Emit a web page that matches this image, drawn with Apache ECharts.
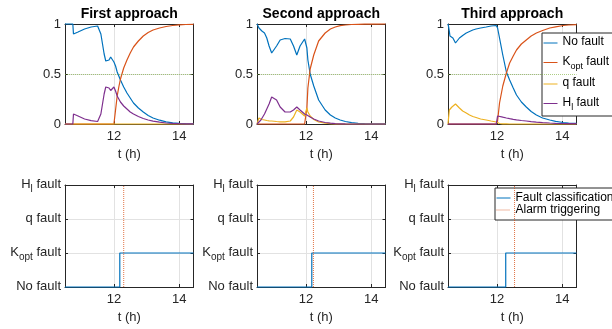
<!DOCTYPE html>
<html><head><meta charset="utf-8">
<script src="https://cdn.jsdelivr.net/npm/echarts@6/dist/echarts.min.js"></script>
<style>html,body{margin:0;padding:0;background:#fff}#c{width:612px;height:329px}</style>
</head><body><div id="c"></div>
<script>
// ---------- data ----------
const titles = ['First approach', 'Second approach', 'Third approach'];
const faultNames = ['No fault', 'Kopt fault', 'q fault', 'Hl fault'];
const classLabels = ['No fault', 'Kopt fault', 'q fault', 'Hl fault'];
const xTicks = [12, 14];
const tStart = 10.5, tEnd = 14.44;
const threshold = 0.5;

const tFirst = [10.5,10.74,10.76,10.9,11.1,11.3,11.5,11.55,11.6,11.65,11.7,11.75,11.79,11.85,11.9,11.95,12.0,12.05,12.1,12.15,12.2,12.3,12.4,12.5,12.6,12.75,12.9,13.05,13.2,13.4,13.6,13.8,14.0,14.2,14.44];
const noFaultFirst = [1,1,0.9,0.92,0.95,0.97,0.98,0.985,0.9,0.8,0.7,0.63,0.61,0.64,0.67,0.65,0.62,0.58,0.52,0.48,0.44,0.37,0.31,0.26,0.21,0.16,0.12,0.085,0.06,0.038,0.022,0.012,0.006,0.003,0.002];
const koptFirst = [0,0,0,0,0,0,0,0,0,0,0,0,0,0,0,0,0,0.14,0.28,0.37,0.45,0.56,0.64,0.71,0.77,0.83,0.88,0.915,0.94,0.96,0.975,0.985,0.992,0.995,0.997];
const qFirst = [0,0,0,0,0,0,0,0,0,0,0,0,0,0,0,0,0,0,0,0,0,0,0,0,0,0,0,0,0,0,0,0,0,0,0];
const hlFirst = [0,0,0.1,0.08,0.05,0.033,0.025,0.025,0.1,0.2,0.3,0.37,0.39,0.36,0.335,0.35,0.37,0.33,0.28,0.25,0.22,0.18,0.15,0.12,0.1,0.075,0.055,0.04,0.028,0.018,0.01,0.006,0.003,0.002,0.001];

const tSecond = [10.5,10.56,10.62,10.65,10.73,10.8,10.87,10.95,11.0,11.1,11.21,11.36,11.52,11.62,11.72,11.82,11.96,12.0,12.03,12.06,12.13,12.24,12.39,12.59,12.75,12.9,13.05,13.21,13.4,13.6,13.8,14.0,14.2,14.44];
const noFaultSecond = [1,0.96,0.94,0.93,0.91,0.86,0.78,0.71,0.70,0.78,0.84,0.855,0.85,0.78,0.69,0.78,0.85,0.84,0.76,0.64,0.5,0.38,0.24,0.14,0.09,0.06,0.04,0.025,0.013,0.007,0.004,0.002,0.001,0.001];
const koptSecond = [0,0,0,0,0,0,0,0,0,0,0,0,0,0,0,0,0,0,0.16,0.36,0.55,0.69,0.83,0.91,0.95,0.97,0.983,0.99,0.995,0.997,0.998,0.999,0.999,1];
const qSecond = [0,0.06,0.05,0.045,0.04,0.035,0.032,0.03,0.028,0.025,0.022,0.022,0.03,0.07,0.14,0.12,0.08,0.08,0.16,0.12,0.08,0.045,0.02,0.008,0.004,0.002,0.001,0,0,0,0,0,0,0];
const hlSecond = [0,0.02,0.04,0.05,0.1,0.15,0.2,0.27,0.29,0.24,0.17,0.12,0.12,0.14,0.17,0.14,0.1,0.095,0.09,0.085,0.07,0.05,0.03,0.015,0.008,0.004,0.002,0.001,0,0,0,0,0,0];

const tThird = [10.5,10.52,10.54,10.56,10.59,10.62,10.65,10.68,10.73,10.77,10.85,10.95,11.06,11.16,11.26,11.36,11.5,11.67,11.82,11.98,12.0,12.02,12.08,12.18,12.29,12.39,12.5,12.6,12.75,12.9,13.05,13.21,13.4,13.62,13.8,14.03,14.2,14.44];
const noFaultThird = [1,0.97,0.93,0.88,0.87,0.865,0.86,0.85,0.81,0.82,0.86,0.885,0.91,0.925,0.94,0.95,0.96,0.97,0.98,0.985,0.985,0.96,0.86,0.69,0.52,0.44,0.36,0.29,0.22,0.17,0.125,0.09,0.06,0.04,0.027,0.015,0.01,0.006];
const koptThird = [0,0,0,0,0,0,0,0,0,0,0,0,0,0,0,0,0,0,0,0,0,0.03,0.21,0.38,0.51,0.61,0.68,0.74,0.8,0.84,0.88,0.91,0.935,0.96,0.972,0.985,0.99,0.993];
const qThird = [0,0.07,0.14,0.16,0.16,0.17,0.16,0.17,0.2,0.19,0.16,0.13,0.11,0.09,0.075,0.065,0.05,0.04,0.03,0.02,0.015,0.01,0.005,0.002,0.001,0,0,0,0,0,0,0,0,0,0,0,0,0];
const hlThird = [0,0,0,0,0,0,0,0,0,0,0,0,0,0,0,0,0,0,0,0,0,0.08,0.075,0.068,0.06,0.053,0.047,0.042,0.035,0.03,0.024,0.019,0.014,0.01,0.007,0.005,0.004,0.003];

const classSwitchTimes = [12.18, 12.18, 12.27];
const alarmTimes = [12.30, 12.23, 12.54];
const classBefore = 0, classAfter = 1;

// ---------- style / layout ----------
const FF = "'Liberation Sans', Arial, Helvetica, sans-serif";
const colors = ['#0072BD', '#D95319', '#EDB120', '#7E2F8E'];
const green = '#77AC30';
const axisColor = '#262626';
const gridColor = '#e2e2e2';
const lefts = [65, 257, 448];
const W = 128.5;
const topRow = {top: 24, height: 100};
const botRow = {top: 185, height: 102};

const approaches = [
  {t: tFirst, vals: [noFaultFirst, koptFirst, qFirst, hlFirst]},
  {t: tSecond, vals: [noFaultSecond, koptSecond, qSecond, hlSecond]},
  {t: tThird, vals: [noFaultThird, koptThird, qThird, hlThird]}
];

function richName(name) {
  if (name === 'Kopt fault') return '{m|K}{s|opt}{m| fault}';
  if (name === 'Hl fault') return '{m|H}{s|l}{m| fault}';
  return '{m|' + name + '}';
}
const axisRich = {
  m: {fontSize: 13, fontFamily: FF, color: axisColor, lineHeight: 15, verticalAlign: 'top'},
  s: {fontSize: 10, fontFamily: FF, color: axisColor, lineHeight: 11, padding: [9, 0, 0, 0]}
};
const legendRich = {
  m: {fontSize: 12, fontFamily: FF, color: '#000', lineHeight: 14, verticalAlign: 'top'},
  s: {fontSize: 9, fontFamily: FF, color: '#000', lineHeight: 10, padding: [8, 0, 0, 0]}
};

const grid = [], xAxis = [], yAxis = [], series = [], title = [];
const zip = (t, v) => t.map((x, i) => [x, v[i]]);

function addAxes(gi, isTop) {
  const line = {show: true, onZero: false, lineStyle: {color: axisColor, width: 1}};
  const tick = {show: true, inside: true, length: 3, customValues: xTicks, lineStyle: {color: axisColor}};
  xAxis.push({
    type: 'value', gridIndex: gi, min: tStart, max: tEnd, position: 'bottom',
    axisLine: line, axisTick: tick,
    axisLabel: {customValues: xTicks, color: axisColor, fontSize: 13, fontFamily: FF, margin: 6},
    splitLine: {show: true, lineStyle: {color: gridColor, width: 1}},
    name: 't (h)', nameLocation: 'middle', nameGap: 24,
    nameTextStyle: {fontSize: 13, fontFamily: FF, color: axisColor}
  });
  xAxis.push({
    type: 'value', gridIndex: gi, min: tStart, max: tEnd, position: 'top',
    axisLine: line, axisTick: tick, axisLabel: {show: false}, splitLine: {show: false}
  });
  const yBase = isTop
    ? {min: 0, max: 1, interval: 0.5}
    : {min: 0, max: 3, interval: 1};
  yAxis.push(Object.assign({
    type: 'value', gridIndex: gi, position: 'left',
    axisLine: line,
    axisTick: {show: true, inside: true, length: 3, lineStyle: {color: axisColor}},
    axisLabel: isTop
      ? {color: axisColor, fontSize: 13, fontFamily: FF, margin: 4}
      : {margin: 4, formatter: v => richName(classLabels[v]), rich: axisRich},
    splitLine: {show: true, lineStyle: {color: gridColor, width: 1}}
  }, yBase));
  yAxis.push(Object.assign({
    type: 'value', gridIndex: gi, position: 'right',
    axisLine: line,
    axisTick: {show: true, inside: true, length: 3, lineStyle: {color: axisColor}},
    axisLabel: {show: false}, splitLine: {show: false}
  }, yBase));
}

for (let i = 0; i < 3; i++) {
  const gi = i;
  grid.push({left: lefts[i], width: W, top: topRow.top, height: topRow.height});
  addAxes(gi, true);
  title.push({
    text: titles[i], left: lefts[i] + W / 2, top: 7, textAlign: 'center', padding: 0,
    textStyle: {fontSize: 14, fontWeight: 'bold', color: '#000', fontFamily: FF}
  });
  const ap = approaches[i];
  faultNames.forEach((name, k) => {
    const s = {
      type: 'line', name: name, xAxisIndex: 2 * gi, yAxisIndex: 2 * gi,
      data: zip(ap.t, ap.vals[k]), symbol: 'none', clip: false,
      lineStyle: {color: colors[k], width: 1.2}, itemStyle: {color: colors[k]},
      z: 2 + k
    };
    if (k === 0) {
      s.markLine = {
        silent: true, symbol: ['none', 'none'], label: {show: false},
        lineStyle: {color: green, type: 'dotted', width: 1, opacity: 0.6},
        data: [{yAxis: threshold}]
      };
    }
    series.push(s);
  });
}
for (let i = 0; i < 3; i++) {
  const gi = 3 + i;
  grid.push({left: lefts[i], width: W, top: botRow.top, height: botRow.height});
  addAxes(gi, false);
  series.push({
    type: 'line', name: 'Fault classification', xAxisIndex: 2 * gi, yAxisIndex: 2 * gi,
    step: 'end', symbol: 'none', clip: false,
    data: [[tStart, classBefore], [classSwitchTimes[i], classAfter], [tEnd, classAfter]],
    lineStyle: {color: colors[0], width: 1.2}, itemStyle: {color: colors[0]}, z: 3
  });
  series.push({
    type: 'line', name: 'Alarm triggering', xAxisIndex: 2 * gi, yAxisIndex: 2 * gi,
    symbol: 'none', clip: false,
    data: [[alarmTimes[i], 0], [alarmTimes[i], classLabels.length - 1]],
    lineStyle: {color: colors[1], width: 1, type: 'dotted', opacity: 0.8}, itemStyle: {color: colors[1]}, z: 4
  });
}

const option = {
  animation: false,
  backgroundColor: '#fff',
  title, grid, xAxis, yAxis, series,
  legend: [
    {
      data: faultNames, orient: 'vertical', left: 542, top: 33,
      backgroundColor: '#fff', borderColor: axisColor, borderWidth: 1, borderRadius: 0,
      padding: [3, 14, 4, 1], itemGap: 6, itemWidth: 14, itemHeight: 10,
      selectedMode: false,
      itemStyle: {opacity: 0},
      lineStyle: {width: 1},
      formatter: richName,
      textStyle: {fontSize: 12, fontFamily: FF, color: '#000', rich: legendRich}
    },
    {
      data: ['Fault classification', 'Alarm triggering'], orient: 'vertical', left: 495, top: 188,
      backgroundColor: '#fff', borderColor: axisColor, borderWidth: 1, borderRadius: 0,
      padding: [4, 12, 4, 1], itemGap: 0, itemWidth: 14, itemHeight: 10,
      selectedMode: false,
      itemStyle: {opacity: 0},
      lineStyle: {width: 1},
      textStyle: {fontSize: 12, fontFamily: FF, color: '#000', lineHeight: 12}
    }
  ]
};
const chart = echarts.init(document.getElementById('c'), null, {renderer: 'canvas'});
chart.setOption(option);
</script></body></html>
